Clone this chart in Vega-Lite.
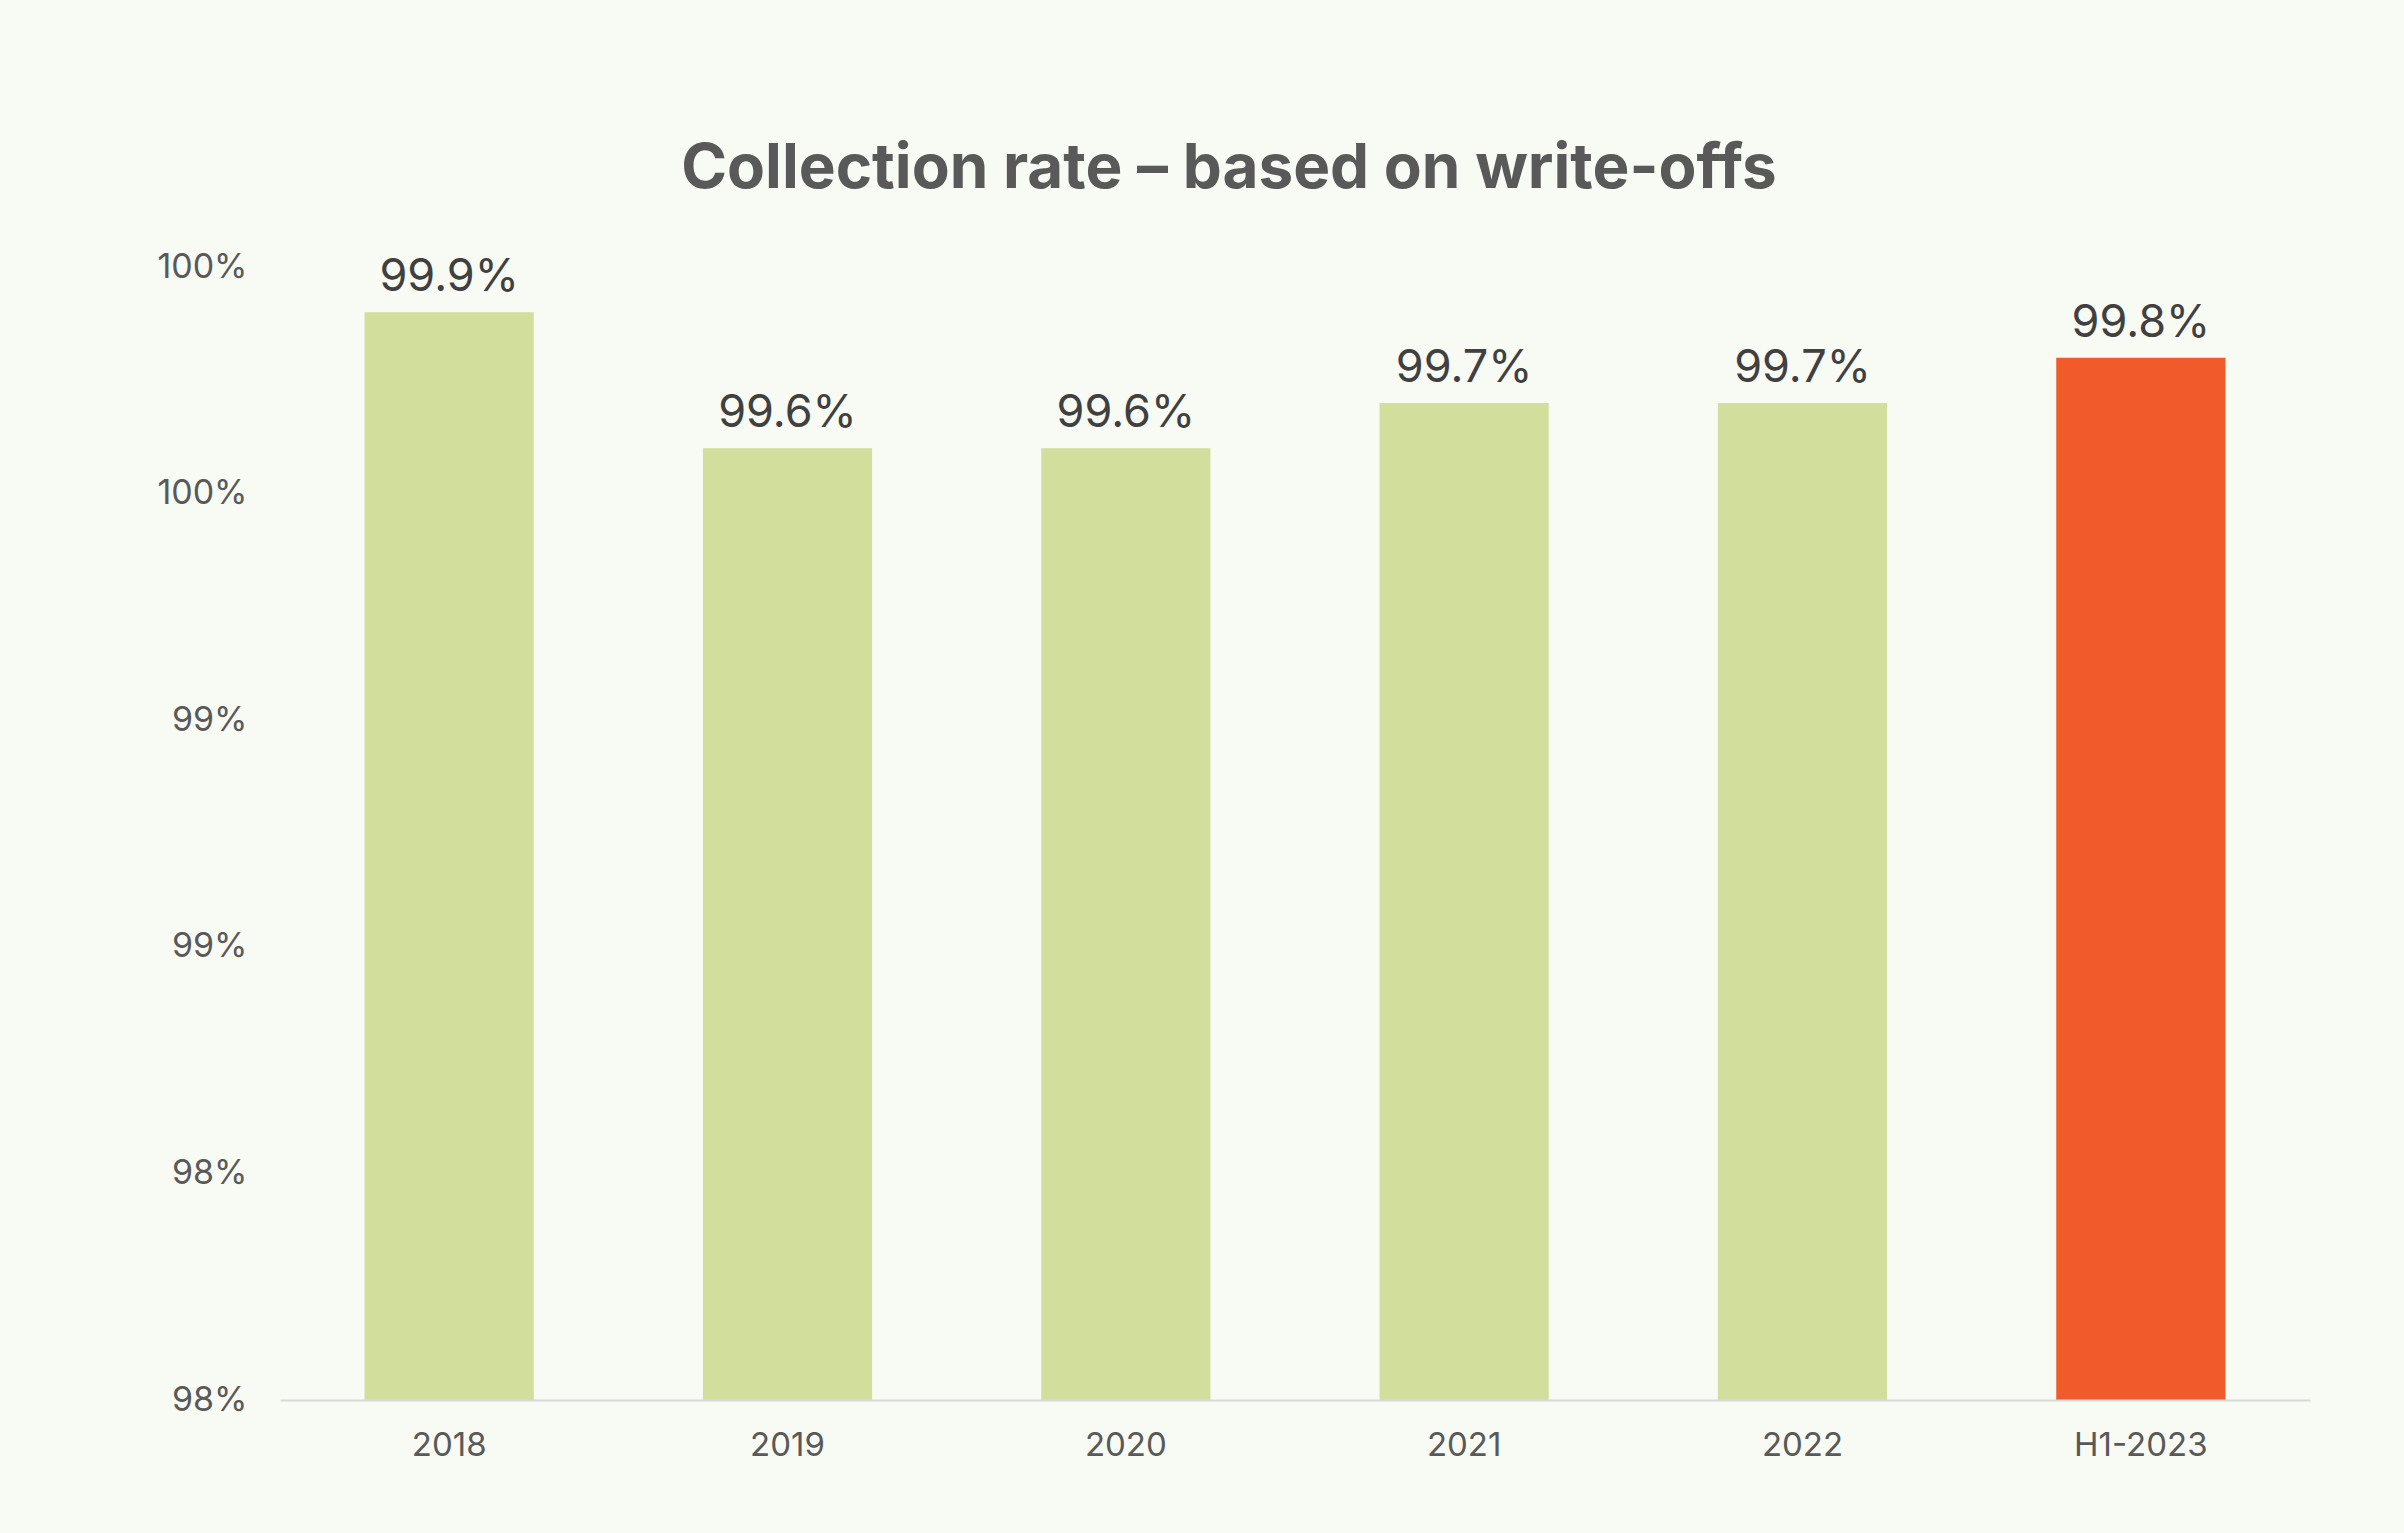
{
  "$schema": "https://vega.github.io/schema/vega-lite/v6.json",
  "width": 2030,
  "height": 1133,
  "autosize": "none",
  "padding": {"left": 280, "top": 267, "right": 94, "bottom": 133},
  "background": "#F8FAF4",
  "config": {"view": {"stroke": null}, "font": "Inter"},
  "title": {
    "text": "Collection rate – based on write-offs",
    "fontSize": 62,
    "fontWeight": 700,
    "color": "#595959",
    "anchor": "middle",
    "baseline": "bottom",
    "offset": -13,
    "dx": -66
  },
  "data": {
    "values": [
      {"period": "2018", "rate": 0.999},
      {"period": "2019", "rate": 0.996},
      {"period": "2020", "rate": 0.996},
      {"period": "2021", "rate": 0.997},
      {"period": "2022", "rate": 0.997},
      {"period": "H1-2023", "rate": 0.998}
    ]
  },
  "encoding": {
    "x": {
      "field": "period",
      "type": "nominal",
      "sort": null,
      "scale": {"paddingInner": 0.5, "paddingOuter": 0.25},
      "axis": {
        "title": null,
        "labelAngle": 0,
        "labelFontSize": 33,
        "labelColor": "#595959",
        "labelPadding": 29,
        "ticks": false,
        "domainColor": "#D9D9D9",
        "domainWidth": 2,
        "grid": false,
        "zindex": 1
      }
    },
    "y": {
      "field": "rate",
      "type": "quantitative",
      "scale": {"domain": [0.975, 1.0], "nice": false, "zero": false},
      "axis": {
        "title": null,
        "values": [0.975, 0.98, 0.985, 0.99, 0.995, 1.0],
        "labelExpr": "round(datum.value * 100) + '%'",
        "labelFontSize": 34,
        "labelColor": "#595959",
        "labelPadding": 33,
        "ticks": false,
        "domain": false,
        "grid": false
      }
    }
  },
  "layer": [
    {
      "mark": {"type": "bar", "clip": true},
      "encoding": {
        "y2": {"datum": 0.975},
        "color": {
          "field": "period",
          "type": "nominal",
          "scale": {
            "domain": ["2018", "2019", "2020", "2021", "2022", "H1-2023"],
            "range": ["#D2DE9C", "#D2DE9C", "#D2DE9C", "#D2DE9C", "#D2DE9C", "#F15A2B"]
          },
          "legend": null
        }
      }
    },
    {
      "mark": {"type": "text", "baseline": "alphabetic", "dy": -21, "fontSize": 45, "color": "#404040"},
      "encoding": {
        "text": {"field": "rate", "type": "quantitative", "format": ".1%"}
      }
    }
  ]
}
